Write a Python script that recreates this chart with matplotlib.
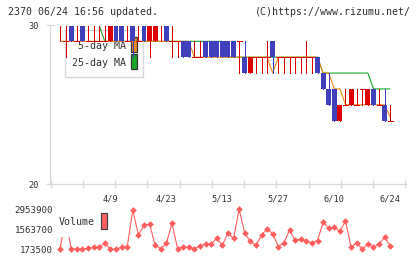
import matplotlib
matplotlib.use("Agg")
import matplotlib.pyplot as plt
from matplotlib.patches import Rectangle
import numpy as np

# ---------------- data ----------------
opens  = [30,29,30,29,30,29,29,29,29,29,30,30,29,30,29,30,29,29,30,30,
          29,29,29,29,28,28,29,29,29,29,29,29,29,28,27,28,28,28,29,28,
          28,28,28,28,28,28,28,27,26,26,24,25,25,25,26,25,26,25,25,24]
highs  = [30,30,30,30,30,30,30,30,30,30,30,30,30,30,30,30,30,30,30,30,
          30,29,29,29,29,29,29,29,29,29,29,29,29,29,28,28,28,29,29,28,
          28,28,28,28,29,28,28,27,27,26,25,26,26,26,26,26,26,26,26,25]
lows   = [29,28,29,29,29,29,29,29,29,29,29,29,29,28,29,29,28,29,29,29,
          28,28,28,28,28,28,28,28,28,28,28,28,27,27,27,27,27,27,27,27,
          27,27,27,27,27,27,27,26,25,24,24,25,25,25,25,25,25,25,24,24]
closes = [30,29,29,29,29,29,29,29,29,30,29,29,29,29,29,29,30,30,30,29,
          29,29,28,28,28,28,28,28,28,28,28,28,29,27,28,28,28,28,28,28,
          28,28,28,28,28,28,27,26,25,24,25,25,26,25,26,26,25,25,24,24]
ma5    = [29]*24 + [28]*14 + [27] + [28]*8 + [27, 27, 26, 26] + [25]*8 + [24.2]
ma25   = [30]*8 + [29]*22 + [28]*17 + [27]*9 + [26]*4
volume = [220000, 2330000, 220000, 173500, 173500, 243000, 312500, 312500, 590600, 173500,
          173500, 312500, 312500, 2907000, 1170000, 1840000, 1934000, 451500, 220000, 590600,
          1980000, 220000, 359000, 312500, 220000, 405000, 544000, 544000, 938000, 451500,
          1286000, 938000, 2953900, 1286000, 730000, 451500, 1147000, 1610000, 1240000, 359000,
          637000, 1494000, 822000, 868600, 730000, 637000, 776000, 2050000, 1633000, 1703000,
          1425000, 2143000, 312500, 637000, 173500, 544000, 312500, 544000, 1008000, 405000]
date_labels = ["4/9", "4/23", "5/13", "5/27", "6/10", "6/24"]
date_index  = [9, 19, 29, 39, 49, 59]
vol_ticks   = [173500, 1563700, 2953900]

# ---------------- style ----------------
RED = "#dd0000"
BLUE = "#4040bb"
ORANGE = "#f28a1a"
GREEN = "#18a82a"
GRAY = "#d9d9d9"
TXT = "#333333"
VOLC = "#ff5e5e"
FONT = "DejaVu Sans Mono"
plt.rcParams["font.family"] = [FONT]

W, H = 420, 259
fig = plt.figure(figsize=(W / 100, H / 100), dpi=100)

def fx(px):
    return px / W

def fy(py):
    return 1 - py / H

PX_PER_DAY = 5.598
X0_PX = 60.0
AX_L, AX_R = 50.0, 406.0
xlim = ((AX_L - X0_PX) / PX_PER_DAY, (AX_R - X0_PX) / PX_PER_DAY)
LW1 = 0.72  # one pixel

# ---------------- price axes ----------------
ax = fig.add_axes([fx(AX_L), fy(184), (AX_R - AX_L) / W, (184 - 25.5) / H])
ax.set_xlim(*xlim)
ax.set_ylim(20, 30)
for s in ["top", "right"]:
    ax.spines[s].set_visible(False)
for s in ["left", "bottom"]:
    ax.spines[s].set_color(GRAY)
    ax.spines[s].set_linewidth(0.9)

n = len(closes)
idx = np.arange(n)
o = np.array(opens, float); c = np.array(closes, float)
hi = np.array(highs, float); lo = np.array(lows, float)
colors = [RED if c[i] >= o[i] else BLUE for i in range(n)]

ax.plot(idx, ma25, color=GREEN, lw=0.8, zorder=2, solid_capstyle="butt")
ax.plot(idx, ma5, color=ORANGE, lw=0.8, zorder=2, solid_capstyle="butt")

bw = 0.88
ax.vlines(idx, lo, hi, colors=colors, lw=LW1, zorder=3, antialiased=False)
body_lo = np.minimum(o, c)
body_h = np.abs(c - o)
mask = body_h > 0
ax.bar(idx[mask], body_h[mask], bottom=body_lo[mask], width=bw,
       color=[colors[i] for i in idx[mask]], linewidth=0, zorder=3, antialiased=False)
dmask = ~mask
ax.hlines(o[dmask], idx[dmask] - bw / 2, idx[dmask] + bw / 2,
          colors=[colors[i] for i in idx[dmask]], lw=LW1, zorder=3, antialiased=False)

# ticks
ax.set_yticks([20, 30])
ax.set_yticklabels(["20", "30"])
ax.tick_params(axis="y", direction="inout", length=5.8, width=0.9, color=GRAY,
               pad=5, labelsize=6.2, labelcolor=TXT)
ax.set_xticks(date_index)
ax.set_xticklabels(date_labels)
ax.tick_params(axis="x", which="major", length=0, pad=7.5, labelsize=6.2, labelcolor=TXT)
minor = xlim[0] + (0.7 + 32.24 * np.arange(12)) / PX_PER_DAY
ax.set_xticks(minor, minor=True)
ax.tick_params(axis="x", which="minor", direction="inout", length=5.8, width=0.9, color=GRAY)

# legend (drawn under candles)
lg = Rectangle((fx(65.3), fy(77.3)), fx(143.3) - fx(65.3), fy(30) - fy(77.3),
               transform=fig.transFigure, facecolor="white", edgecolor=GRAY,
               lw=1.0, zorder=1)
ax.add_patch(lg)
lg.set_clip_on(False)
ax.text(fx(125.5), fy(46), "5-day MA", transform=fig.transFigure, ha="right",
        va="center", fontsize=7.2, color=TXT, zorder=1.5)
ax.text(fx(125.5), fy(63), "25-day MA", transform=fig.transFigure, ha="right",
        va="center", fontsize=7.2, color=TXT, zorder=1.5)
for (y0, y1, colr) in [(37, 52.3, ORANGE), (54.3, 69.3, GREEN)]:
    r = Rectangle((fx(131.3), fy(y1)), fx(137.3) - fx(131.3), fy(y0) - fy(y1),
                  transform=fig.transFigure, facecolor=colr, edgecolor="#333333",
                  lw=0.9, zorder=1.5)
    r.set_clip_on(False)
    ax.add_patch(r)

# ---------------- volume axes ----------------
vtop, vbot = 205.3, 253.3
vax = fig.add_axes([fx(AX_L), fy(vbot), (AX_R - AX_L) / W, (vbot - vtop) / H])
vax.set_xlim(*xlim)
vr = vol_ticks[-1] - vol_ticks[0]
pad_v = vr * 4 / 40
vax.set_ylim(vol_ticks[0] - pad_v, vol_ticks[-1] + pad_v)
for s in vax.spines.values():
    s.set_visible(False)
vax.set_xticks([])
vax.set_yticks(vol_ticks)
vax.set_yticklabels([str(v) for v in vol_ticks])
vax.tick_params(axis="y", length=0, pad=-2.3, labelsize=6.6, labelcolor=TXT)
vax.plot(idx, volume, color=VOLC, lw=0.8, marker="D", markersize=3.4,
         markeredgewidth=0, zorder=2)
vb = Rectangle((fx(55), fy(236.7)), fx(110) - fx(55), fy(205) - fy(236.7),
               transform=fig.transFigure, facecolor="white", edgecolor="none", zorder=3)
vb.set_clip_on(False)
vax.add_patch(vb)
vax.text(fx(58.5), fy(222.3), "Volume", transform=fig.transFigure, ha="left",
         va="center", fontsize=7.2, color=TXT, zorder=4)
vp = Rectangle((fx(101.3), fy(228.5)), fx(107.3) - fx(101.3), fy(212.7) - fy(228.5),
               transform=fig.transFigure, facecolor="#ff6262", edgecolor="#444444",
               lw=0.9, zorder=4)
vp.set_clip_on(False)
vax.add_patch(vp)

# ---------------- header ----------------
fig.text(fx(8), fy(12.3), "2370 06/24 16:56 updated.", ha="left", va="center",
         fontsize=7.2, color=TXT)
fig.text(fx(410.5), fy(12.3), "(C)https://www.rizumu.net/", ha="right", va="center",
         fontsize=7.2, color=TXT)

fig.savefig("out.png", dpi=100)
